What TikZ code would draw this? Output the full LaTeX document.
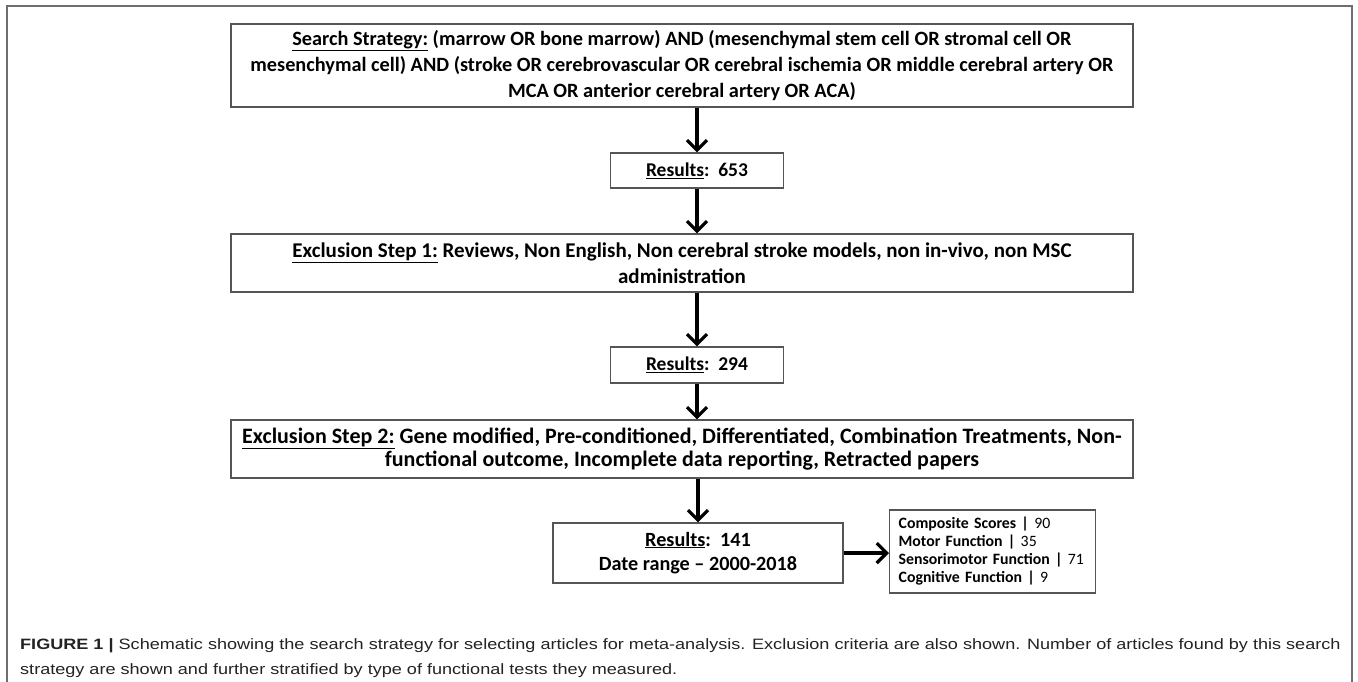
\documentclass[tikz,border=0pt]{standalone}
\usepackage{fontspec}
\setmainfont{Carlito}
\newfontfamily\capfont[FakeStretch=1.205]{Liberation Sans}
\usetikzlibrary{arrows.meta}
\definecolor{boxgray}{RGB}{85,85,85}
\definecolor{framegray}{RGB}{110,110,110}
\definecolor{captxt}{RGB}{35,35,35}
\tikzset{
  box/.style={draw=boxgray, line width=1.3pt, inner sep=0pt, align=center, font=\fontsize{20.3}{26}\selectfont\bfseries},
  resbox/.style={box, minimum width=173pt, font=\fontsize{19.5}{26}\selectfont\bfseries},
  arr/.style={line width=3.2pt, -{Straight Barb[length=10pt,width=20pt]}},
}
\begin{document}
\begin{tikzpicture}[x=1pt,y=-1pt]
\useasboundingbox (0,0) rectangle (1358,681);
\fill[white] (0,0) rectangle (1358,681);
\draw[framegray, line width=1.5pt] (7,690) -- (7,6) -- (1352,6) -- (1352,690);

\node[box, minimum width=902pt, minimum height=83pt, font=\fontsize{20.3}{26.3}\selectfont\bfseries] (search) at (682,65.5)
 {\underline{Search Strategy:} (marrow OR bone marrow) AND (mesenchymal stem cell OR stromal cell OR\\
  mesenchymal cell) AND (stroke OR cerebrovascular OR cerebral ischemia OR middle cerebral artery OR\\
  MCA OR anterior cerebral artery OR ACA)};
\node[resbox, minimum height=35pt] (r1) at (697,170.5) {\underline{Results}:~~653};
\node[box, minimum width=902pt, minimum height=58pt, font=\fontsize{21}{26}\selectfont\bfseries] (ex1) at (682,263)
 {\underline{Exclusion Step 1:} Reviews, Non English, Non cerebral stroke models, non in-vivo, non MSC\\ administration};
\node[resbox, minimum height=36pt] (r2) at (697,365) {\underline{Results}:~~294};
\node[box, minimum width=902pt, minimum height=58pt, font=\fontsize{22}{23.5}\selectfont\bfseries] (ex2) at (682,449)
 {\underline{Exclusion Step 2:} Gene modified, Pre-conditioned, Differentiated, Combination Treatments, Non-\\ functional outcome, Incomplete data reporting, Retracted papers};
\node[box, minimum width=290pt, minimum height=60pt, font=\fontsize{20.2}{24.5}\selectfont\bfseries] (r3) at (698,553) {\underline{Results}:~~141\\Date range -- 2000-2018};
\node[box, minimum height=83pt, text width=200pt, align=left, anchor=west, font=\fontsize{15.8}{18}\selectfont\bfseries, inner xsep=3pt] (tests) at (889,551.5)
 {\leftskip=6pt Composite Scores | {\mdseries 90}\\
  Motor Function | {\mdseries 35}\\
  Sensorimotor Function | {\mdseries 71}\\
  Cognitive Function | {\mdseries 9}\par};

\draw[arr] (search.south -| r1.north) -- (r1.north);
\draw[arr] (r1.south) -- (ex1.north -| r1.south);
\draw[arr] (ex1.south -| r2.north) -- (r2.north);
\draw[arr] (r2.south) -- (ex2.north -| r2.south);
\draw[arr] (ex2.south -| r3.north) -- (r3.north);
\draw[arr] (r3.east) -- (tests.west |- r3.east);

\node[anchor=west, align=left, text=captxt, font=\capfont\fontsize{15}{25}\selectfont, inner sep=0pt] (cap) at (20,658)
 {{\bfseries FIGURE 1 |} Schematic showing the search strategy for selecting articles for meta-analysis. Exclusion criteria are also shown. Number of articles found by this search\\
  strategy are shown and further stratified by type of functional tests they measured.};
\end{tikzpicture}
\end{document}
